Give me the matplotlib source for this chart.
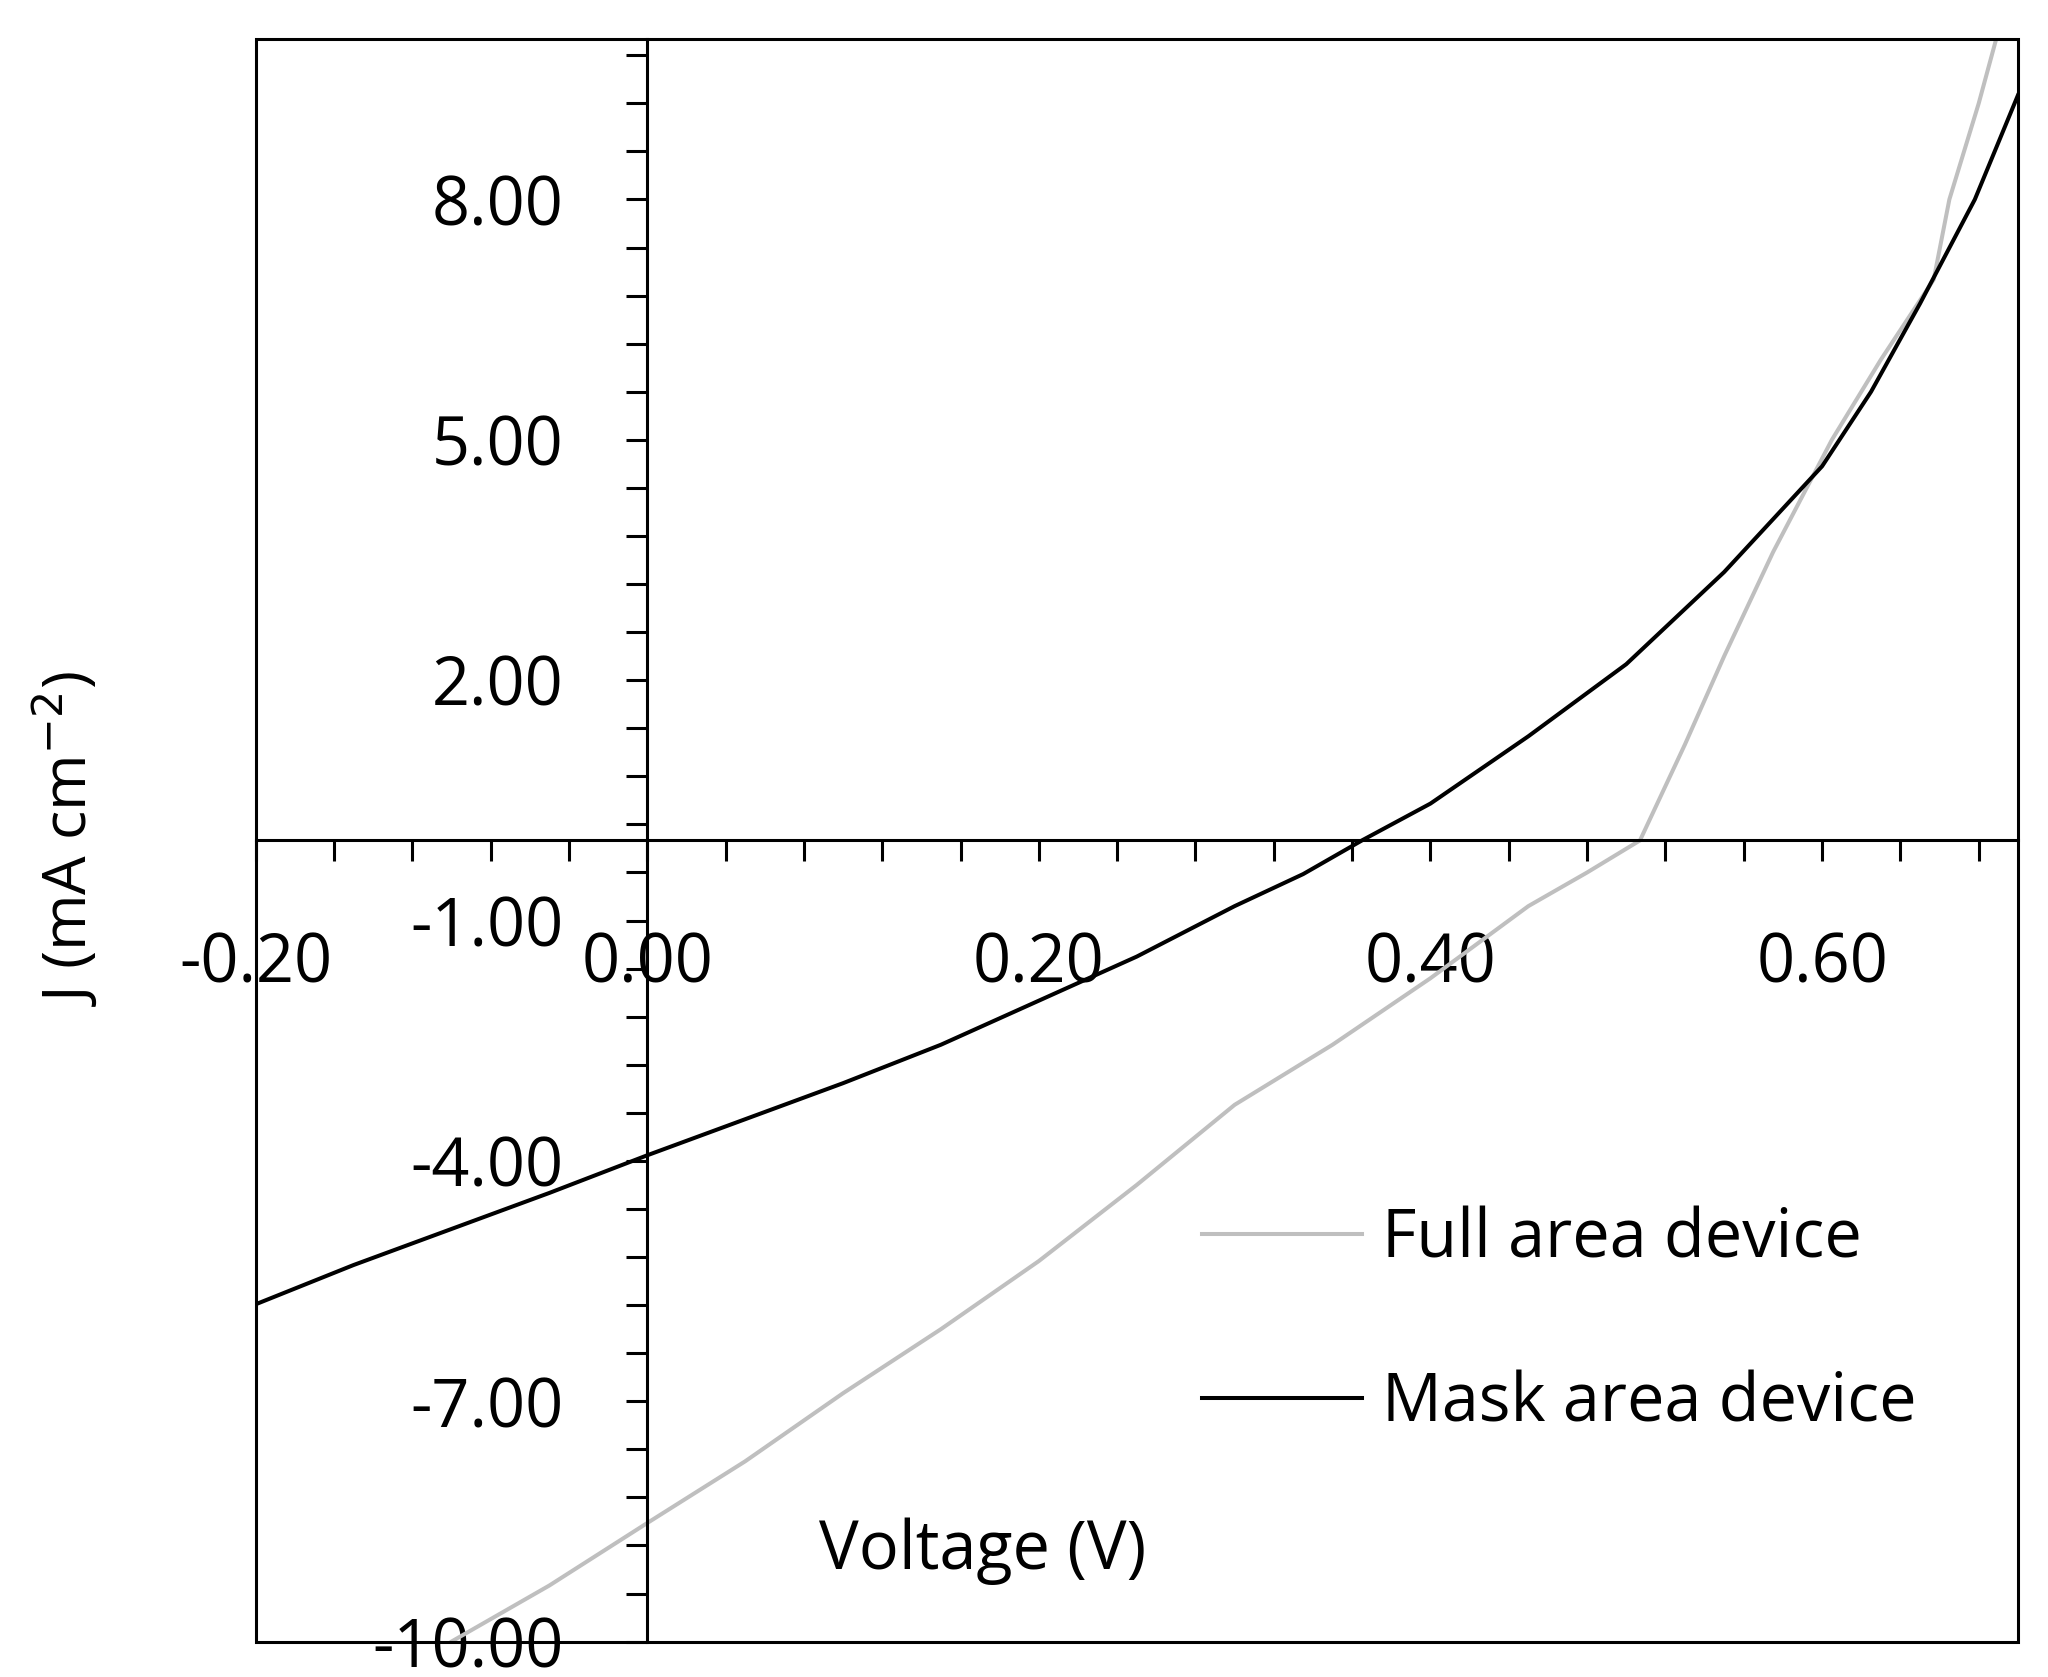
import matplotlib
matplotlib.use("Agg")
import matplotlib.pyplot as plt
import numpy as np
from matplotlib.patches import Rectangle

plt.rcParams['font.family'] = ['Open Sans', 'DejaVu Sans']

# J-V curves
v_full = [-0.12, -0.10, -0.05, 0.00, 0.05, 0.10, 0.15, 0.20, 0.25, 0.30, 0.35, 0.40, 0.45, 0.48, 0.507,
          0.53, 0.55, 0.575, 0.605, 0.63, 0.657, 0.665, 0.68, 0.69]
j_full = [-10.4, -10.0, -9.3, -8.52, -7.75, -6.9, -6.1, -5.25, -4.3, -3.3, -2.55, -1.72, -0.82, -0.4, 0.0,
          1.2, 2.3, 3.6, 5.0, 6.0, 7.0, 8.0, 9.2, 10.1]

v_mask = [-0.20, -0.15, -0.10, -0.05, 0.00, 0.05, 0.10, 0.15, 0.20, 0.25, 0.30, 0.335, 0.365, 0.40,
          0.45, 0.50, 0.55, 0.60, 0.625, 0.65, 0.678, 0.70]
j_mask = [-5.79, -5.3, -4.85, -4.4, -3.93, -3.48, -3.03, -2.55, -2.0, -1.45, -0.82, -0.42, 0.0, 0.46,
          1.3, 2.2, 3.35, 4.67, 5.6, 6.7, 8.0, 9.3]

fig = plt.figure(figsize=(20.48, 16.77), dpi=100)
ax = fig.add_axes([0.1248, 0.0211, 0.8605, 0.9555])

ax.plot(v_full, j_full, color='#bfbfbf', lw=2.9, label='Full area device')
ax.plot(v_mask, j_mask, color='black', lw=2.9, label='Mask area device')

ax.set_xlim(-0.20, 0.70)
ax.set_ylim(-10, 10)

for s in ['top', 'right']:
    ax.spines[s].set_visible(False)
ax.spines['left'].set_position(('data', 0))
ax.spines['bottom'].set_position(('data', 0))
ax.spines['left'].set_linewidth(2.2)
ax.spines['bottom'].set_linewidth(2.2)
ax.add_patch(Rectangle((0, 0), 1, 1, transform=ax.transAxes, fill=False,
                       lw=2.2, ec='black', clip_on=False, zorder=5))

ax.set_xticks([-0.20, 0.00, 0.20, 0.40, 0.60])
ax.set_xticklabels(['-0.20', '0.00', '0.20', '0.40', '0.60'])
ax.set_xticks(np.arange(-0.20, 0.701, 0.04), minor=True)
ax.set_yticks([-10, -7, -4, -1, 2, 5, 8])
ax.set_yticklabels(['-10.00', '-7.00', '-4.00', '-1.00', '2.00', '5.00', '8.00'])
ax.set_yticks(np.arange(-10, 10.01, 0.6), minor=True)
ax.tick_params(which='both', direction='out', length=15, width=2.2, labelsize=48)
ax.tick_params(axis='x', which='major', pad=50)
ax.tick_params(axis='y', which='major', pad=45)

fig.text(0.032, 0.5, 'J (mA cm$^{-2}$)', rotation=90, fontsize=44, va='center', ha='center')
fig.text(0.48, 0.075, 'Voltage (V)', fontsize=48, ha='center', va='center')

fig.legend(loc='upper left', bbox_to_anchor=(0.587, 0.281), frameon=False,
           fontsize=48, handlelength=2.4, handletextpad=0.3, labelspacing=1.45,
           borderpad=0, borderaxespad=0)

fig.savefig('out.png', dpi=100)
